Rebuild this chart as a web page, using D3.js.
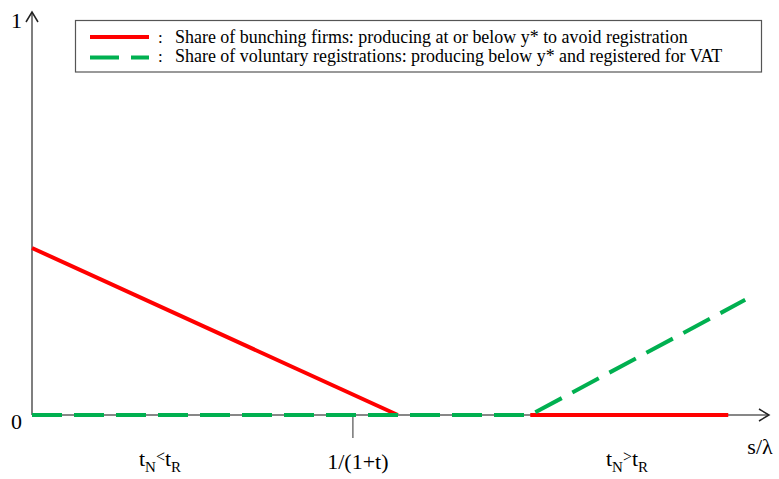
<!DOCTYPE html>
<html><head><meta charset="utf-8">
<script src="https://cdn.jsdelivr.net/npm/d3@7"></script>
<style>body{margin:0;background:#fff}svg{display:block}</style>
</head><body><svg id="c" width="779" height="479"></svg>
<script>
// Data (x in s/λ units on [0,1], y as share on [0,1])
const redSegments = [
  [{x:0, y:0.425},{x:0.497, y:0}],
  [{x:0.677, y:0},{x:0.946, y:0}]
];
const greenPoints = [{x:0, y:0},{x:0.677, y:0},{x:0.969, y:0.293}];
const yTicks = [0, 1];
const xTickValue = 0.436;
const xTickLabel = "1/(1+t)";
const legendLabels = [
  "Share of bunching firms: producing at or below y* to avoid registration",
  "Share of voluntary registrations: producing below y* and registered for VAT"
];

const svg = d3.select("#c");
const x = d3.scaleLinear().domain([0,1]).range([32,768]);
const y = d3.scaleLinear().domain([0,1]).range([415,22]);
const axisCol = "#5f5f5f";
function txt(sel, fx, fy, size){
  return sel.append("text").attr("x",fx).attr("y",fy).style("font-family",'"Times New Roman"').attr("font-size",size).attr("fill","#000");
}

// axes
svg.append("line").attr("x1",x(0)).attr("x2",x(1)).attr("y1",y(0)).attr("y2",y(0)).attr("stroke",axisCol).attr("stroke-width",1.6);
svg.append("line").attr("x1",x(0)).attr("x2",x(0)).attr("y1",y(0)).attr("y2",13).attr("stroke",axisCol).attr("stroke-width",1.6);
// arrows
svg.append("path").attr("d",`M${x(0)-6},${22} L${x(0)},${12} L${x(0)+6},${22}`).attr("fill","none").attr("stroke","#222").attr("stroke-width",1.5);
svg.append("path").attr("d",`M${x(1)-9},${y(0)-6} L${x(1)+1},${y(0)} L${x(1)-9},${y(0)+6}`).attr("fill","none").attr("stroke","#222").attr("stroke-width",1.5);

// tick at 1/(1+t)
svg.append("line").attr("x1",x(xTickValue)).attr("x2",x(xTickValue)).attr("y1",y(0)).attr("y2",y(0)+23).attr("stroke",axisCol).attr("stroke-width",1.3);
txt(svg, x(xTickValue)+5, 469, 22).attr("text-anchor","middle").text(xTickLabel);

// y tick labels
yTicks.forEach(d=>{
  txt(svg, 22, y(d)+(d===0?14:6), 22).attr("text-anchor","end").text(d);
});

// region labels with subscripts
function sublabel(cx, text1, sub1, op, text2, sub2){
  const t = txt(svg, cx, 466, 22).attr("text-anchor","middle");
  t.append("tspan").text(text1);
  t.append("tspan").attr("font-size",15).attr("dy",6).text(sub1);
  t.append("tspan").attr("font-size",16).attr("dy",-10).text(op);
  t.append("tspan").attr("dy",4).text(text2);
  t.append("tspan").attr("font-size",15).attr("dy",6).text(sub2);
}
sublabel(160,"t","N","<","t","R");
sublabel(627,"t","N",">","t","R");
txt(svg, 760, 454, 22).attr("text-anchor","middle").text("s/λ");

const line = d3.line().x(d=>x(d.x)).y(d=>y(d.y));
// red
redSegments.forEach(s=>svg.append("path").attr("d",line(s)).attr("fill","none").attr("stroke","#ff0000").attr("stroke-width",4));
// green dashed
svg.append("path").attr("d",line(greenPoints)).attr("fill","none").attr("stroke","#00b050").attr("stroke-width",4).attr("stroke-dasharray","30,12");

// legend
const lg = svg.append("g");
lg.append("rect").attr("x",75.5).attr("y",20.5).attr("width",686).attr("height",51.5).attr("fill","#fff").attr("stroke","#555").attr("stroke-width",1.2);
lg.append("line").attr("x1",90).attr("x2",149).attr("y1",37).attr("y2",37).attr("stroke","#ff0000").attr("stroke-width",4);
lg.append("line").attr("x1",90).attr("x2",149).attr("y1",57.5).attr("y2",57.5).attr("stroke","#00b050").attr("stroke-width",4).attr("stroke-dasharray","29,12");
const ly = [42.5, 62];
const lt = legendLabels.map((l,i)=>{
  txt(lg, 158, ly[i], 17).text(":");
  return txt(lg, 175, ly[i], 17).text(l);
});
// fit font size so the first line spans the width seen in the reference
const w = lt[0].node().getComputedTextLength();
const fs = Math.min(19, 17*513/w);
lt.forEach(t=>t.attr("font-size",fs));
</script></body></html>
